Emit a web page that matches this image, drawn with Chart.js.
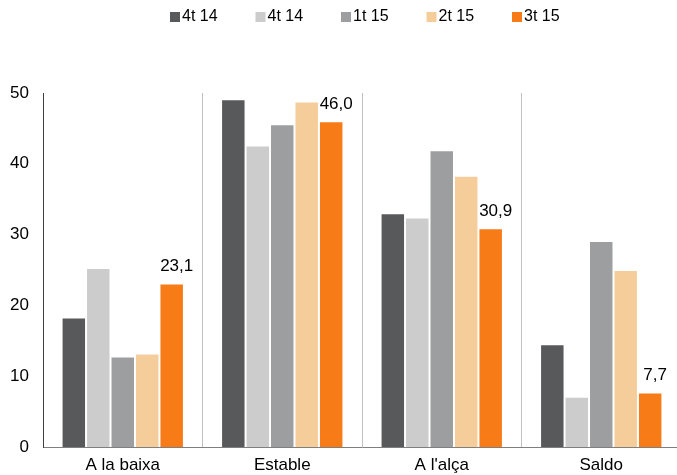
<!DOCTYPE html>
<html>
<head>
<meta charset="utf-8">
<script src="https://cdn.jsdelivr.net/npm/chart.js@4"></script>
<style>
  html, body { margin: 0; padding: 0; background: #fff; overflow: hidden; }
  #wrap { width: 677px; height: 475px; overflow: hidden; }
</style>
</head>
<body>
<div id="wrap"><canvas id="chart" width="681" height="475"></canvas></div>
<script>
// DADES
const categories = ["A la baixa", "Estable", "A l'alça", "Saldo"];
const seriesNames = ["4t 14", "4t 14", "1t 15", "2t 15", "3t 15"];
const serie1 = [18.3, 49.1, 33.0, 14.5];
const serie2 = [25.3, 42.6, 32.4, 7.1];
const serie3 = [12.8, 45.6, 41.9, 29.1];
const serie4 = [13.2, 48.8, 38.3, 25.0];
const serie5 = [23.1, 46.0, 30.9, 7.7];
const yTicks = [0, 10, 20, 30, 40, 50];

const colors = ["#58595b", "#cccccc", "#9c9e9f", "#f5cd9b", "#f77b17"];
const FONT = "'Liberation Sans', Arial, sans-serif";

// LLEGENDA
const legendPlugin = {
    id: "customLegend",
    afterDraw(chart) {
        const ctx = chart.ctx;
        ctx.save();
        ctx.font = "16px " + FONT;
        ctx.textBaseline = "middle";
        ctx.textAlign = "left";
        const pitch = 85.5;
        let x = 170;
        chart.data.datasets.forEach(ds => {
            ctx.fillStyle = ds.backgroundColor;
            ctx.fillRect(x, 12, 10, 10);
            ctx.fillStyle = "#000";
            ctx.fillText(ds.label, x + 12, 17);
            x += pitch;
        });
        ctx.restore();
    }
};

// ETIQUETES DE L'ÚLTIMA SÈRIE
const labelPlugin = {
    id: "lastLabels",
    afterDatasetsDraw(chart) {
        const ctx = chart.ctx;
        const last = chart.data.datasets.length - 1;
        const meta = chart.getDatasetMeta(last);
        ctx.save();
        ctx.font = "17px " + FONT;
        ctx.fillStyle = "#000";
        ctx.textAlign = "center";
        ctx.textBaseline = "alphabetic";
        meta.data.forEach((bar, i) => {
            const v = chart.data.datasets[last].data[i];
            ctx.fillText(v.toFixed(1).replace(".", ","), bar.x + 5, bar.y - 12);
        });
        ctx.restore();
    }
};

const allSeries = [serie1, serie2, serie3, serie4, serie5];

new Chart(document.getElementById("chart"), {
    type: "bar",
    data: {
        labels: categories,
        datasets: allSeries.map((d, i) => ({
            label: seriesNames[i],
            data: d,
            backgroundColor: colors[i],
            borderColor: "rgba(255,255,255,0.3)",
            borderWidth: 1,
            categoryPercentage: 0.767,
            barPercentage: 1
        }))
    },
    options: {
        responsive: false,
        animation: false,
        layout: { padding: { top: 93, right: 0, left: 0, bottom: 0 } },
        plugins: {
            legend: { display: false },
            tooltip: { enabled: false }
        },
        scales: {
            x: {
                offset: true,
                grid: {
                    display: true,
                    offset: true,
                    drawTicks: false,
                    color: "#c0c0c0",
                    lineWidth: 1
                },
                border: { display: true, color: "#7f7f7f" },
                ticks: {
                    font: { family: FONT, size: 17 },
                    color: "#000",
                    padding: 8
                },
                afterFit(scale) { scale.height = 28; }
            },
            y: {
                min: 0,
                max: 50,
                afterBuildTicks(scale) { scale.ticks = yTicks.map(v => ({ value: v })); },
                grid: { display: false, drawTicks: false },
                border: { display: true, color: "#404040" },
                ticks: {
                    font: { family: FONT, size: 17 },
                    color: "#000",
                    padding: 14
                },
                afterFit(scale) { scale.width = 43; }
            }
        }
    },
    plugins: [legendPlugin, labelPlugin]
});
</script>
</body>
</html>
